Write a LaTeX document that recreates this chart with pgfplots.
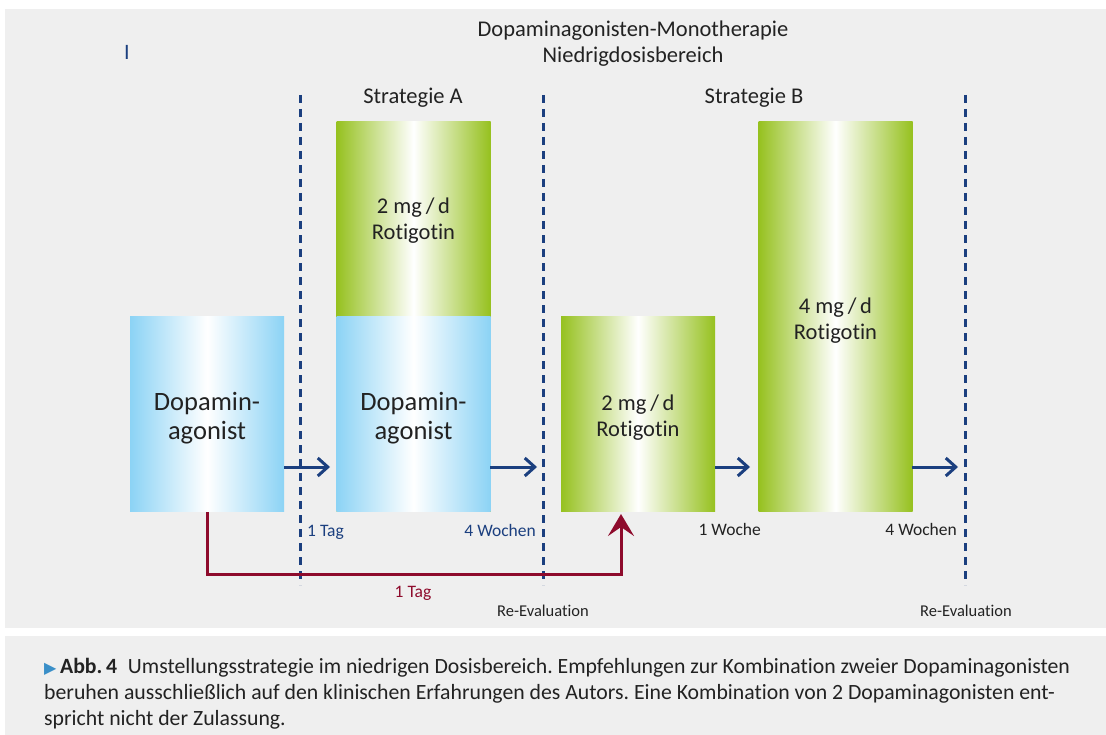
\documentclass[border=0pt]{standalone}
\usepackage{fontspec}
\setmainfont{Carlito}[Ligatures={NoCommon,NoContextual}]
\newfontfamily\symfont{DejaVu Sans}
\usepackage{pgfplots}
\pgfplotsset{compat=1.18}
\usetikzlibrary{arrows.meta}
\frenchspacing

\definecolor{panel}{HTML}{EFEFEF}
\definecolor{navy}{HTML}{1B3F7F}
\definecolor{darkred}{HTML}{8E0B2C}
\definecolor{barblue}{HTML}{8CD3F5}
\definecolor{bargreen}{HTML}{96C11F}
\definecolor{txt}{HTML}{222222}
\definecolor{capblue}{HTML}{3A8FC8}

\pgfdeclarehorizontalshading{blueshade}{100bp}{color(0bp)=(barblue); color(25bp)=(barblue); color(50bp)=(white); color(75bp)=(barblue); color(100bp)=(barblue)}
\pgfdeclarehorizontalshading{greenshade}{100bp}{color(0bp)=(bargreen); color(25bp)=(bargreen); color(50bp)=(white); color(75bp)=(bargreen); color(100bp)=(bargreen)}

\newcommand{\fsz}[1]{\fontsize{#1}{#1}\selectfont}

\pgfplotsset{
  frame/.style={width=1106bp, height=735bp, scale only axis, hide axis, clip=false,
    at={(0,0)}, anchor=south west, xmin=0, xmax=1106},
  px/.style={frame, ymin=0, ymax=735, y dir=reverse},
}

\begin{document}
\begin{tikzpicture}
% background panels
\begin{axis}[px]
\fill[white] (axis cs:0,0) rectangle (axis cs:1106,735);
\fill[panel] (axis cs:5,9) rectangle (axis cs:1106,628);
\fill[panel] (axis cs:5,636) rectangle (axis cs:1106,735);
\end{axis}

% bars: 1 unit = 2 mg/d (or one dopamine agonist dose)
\begin{axis}[frame, ymin=-1.1436, ymax=2.6256, ybar, bar width=154, bar shift=0pt]
\addplot[draw=none, shade, shading=blueshade] coordinates {(207,1)};
\addplot[draw=none, shade, shading=greenshade] coordinates {(413.5,2)};
\addplot[draw=none, shade, shading=blueshade] coordinates {(413.5,1)};
\addplot[draw=none, shade, shading=greenshade] coordinates {(638,1)};
\addplot[draw=none, shade, shading=greenshade] coordinates {(835.5,2)};
\end{axis}

% lines, arrows and text
\begin{axis}[px]
\foreach \xx in {300,543,965}{
  \edef\temp{\noexpand\addplot[navy, line width=3bp, dash pattern=on 8bp off 6bp]
    coordinates {(\xx,95) (\xx,585)};}
  \temp
}
\addplot[navy, line width=3bp, -{Straight Barb[length=10bp, width=18bp]}] coordinates {(284,467) (330,467)};
\addplot[navy, line width=3bp, -{Straight Barb[length=10bp, width=18bp]}] coordinates {(490,467) (537,467)};
\addplot[navy, line width=3bp, -{Straight Barb[length=10bp, width=18bp]}] coordinates {(715,467) (750,467)};
\addplot[navy, line width=3bp, -{Straight Barb[length=10bp, width=18bp]}] coordinates {(912,467) (958,467)};
\addplot[darkred, line width=3bp, -{Stealth[length=22bp, width=26bp, inset=9bp]}] coordinates {(207,512) (207,574) (621,574) (621,514)};

\node[anchor=base, txt, font=\fsz{22.5bp}] at (axis cs:633,37) {Dopaminagonisten-Monotherapie};
\node[anchor=base, txt, font=\fsz{22.5bp}] at (axis cs:633,63) {Niedrigdosisbereich};
\node[anchor=base, txt, font=\fsz{22.5bp}] at (axis cs:413,104) {Strategie A};
\node[anchor=base, txt, font=\fsz{22.5bp}] at (axis cs:754,104) {Strategie B};
\node[anchor=base, navy, font=\fsz{22bp}] at (axis cs:127,60) {I};

\node[anchor=base, txt, font=\fsz{26.5bp}] at (axis cs:207,410) {Dopamin-};
\node[anchor=base, txt, font=\fsz{26.5bp}] at (axis cs:207,439) {agonist};
\node[anchor=base, txt, font=\fsz{26.5bp}] at (axis cs:413.5,410) {Dopamin-};
\node[anchor=base, txt, font=\fsz{26.5bp}] at (axis cs:413.5,439) {agonist};
\node[anchor=base, txt, font=\fsz{22.5bp}] at (axis cs:413.5,213) {2 mg\,/\,d};
\node[anchor=base, txt, font=\fsz{22.5bp}] at (axis cs:413.5,239) {Rotigotin};
\node[anchor=base, txt, font=\fsz{22.5bp}] at (axis cs:638,410) {2 mg\,/\,d};
\node[anchor=base, txt, font=\fsz{22.5bp}] at (axis cs:638,436) {Rotigotin};
\node[anchor=base, txt, font=\fsz{22.5bp}] at (axis cs:835.5,313) {4 mg\,/\,d};
\node[anchor=base, txt, font=\fsz{22.5bp}] at (axis cs:835.5,339) {Rotigotin};

\node[anchor=base west, inner sep=0pt, navy, font=\fsz{17.5bp}] at (axis cs:307,536) {1 Tag};
\node[anchor=base east, inner sep=0pt, navy, font=\fsz{17.5bp}] at (axis cs:536,536) {4 Wochen};
\node[anchor=base east, inner sep=0pt, txt, font=\fsz{17.5bp}] at (axis cs:761,535) {1 Woche};
\node[anchor=base east, inner sep=0pt, txt, font=\fsz{17.5bp}] at (axis cs:957,535) {4 Wochen};
\node[anchor=base, darkred, font=\fsz{17.5bp}] at (axis cs:413,597) {1 Tag};
\node[anchor=base, txt, font=\fsz{16.5bp}] at (axis cs:543,616) {Re-Evaluation};
\node[anchor=base, txt, font=\fsz{16.5bp}] at (axis cs:966,616) {Re-Evaluation};

\node[anchor=base west, inner sep=0pt, txt, font=\fsz{21.75bp}] at (axis cs:44,673)
  {{\symfont\fsz{16bp}\color{capblue}▶}\,\textbf{Abb.\,4}\hspace{0.5em}Umstellungsstrategie im niedrigen Dosisbereich. Empfehlungen zur Kombination zweier Dopaminagonisten};
\node[anchor=base west, inner sep=0pt, txt, font=\fsz{21.75bp}] at (axis cs:44,699)
  {beruhen ausschließlich auf den klinischen Erfahrungen des Autors. Eine Kombination von 2 Dopaminagonisten ent-};
\node[anchor=base west, inner sep=0pt, txt, font=\fsz{21.75bp}] at (axis cs:44,725)
  {spricht nicht der Zulassung.};
\end{axis}
\end{tikzpicture}
\end{document}
